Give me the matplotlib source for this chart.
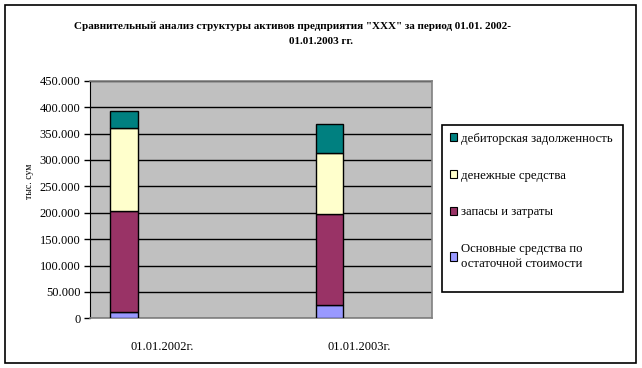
import matplotlib
matplotlib.use("Agg")
import matplotlib.pyplot as plt
from matplotlib.ticker import FuncFormatter, MultipleLocator
from matplotlib.patches import Rectangle

plt.rcParams['font.family'] = ['Liberation Serif', 'DejaVu Serif']

# data (тыс. сум)
dates = ["01.01.2002г.", "01.01.2003г."]
series_names = ["Основные средства по\nостаточной стоимости",
                "запасы и затраты",
                "денежные средства",
                "дебиторская задолженность"]
fixed_assets = [11000, 26000]
stocks = [193000, 172000]
cash = [157000, 115000]
receivables = [31000, 55000]
colors = ["#9999FF", "#993366", "#FFFFCC", "#008080"]

W, H = 642, 368
fig = plt.figure(figsize=(W / 100, H / 100), dpi=100)
fig.patch.set_facecolor("white")
# outer chart border
fig.patches.append(Rectangle((5 / W, 1 - 362.5 / H), 631 / W, 357.5 / H,
                             transform=fig.transFigure, fill=False,
                             edgecolor="black", linewidth=1.2))
# legend box (excel leaves extra room under the last entry)
fig.patches.append(Rectangle((442 / W, 1 - 292 / H), 181 / W, 167 / H,
                             transform=fig.transFigure, fill=False,
                             edgecolor="black", linewidth=1.2, zorder=5))

ax = fig.add_axes([90.3 / W, 1 - 318.3 / H, 342 / W, 237.6 / H])
ax.set_facecolor("#C0C0C0")

x = list(range(len(dates)))
# bars sit left of the category label, as in the excel chart
bar_shift = [-0.197, -0.152]
bar_w = 0.14
xb = [v + s for v, s in zip(x, bar_shift)]

bottom = [0, 0]
handles = []
for vals, col, name in zip([fixed_assets, stocks, cash, receivables], colors, series_names):
    h = ax.bar(xb, vals, bar_w, bottom=bottom, color=col, edgecolor="black",
               linewidth=1, label=name, zorder=3)
    handles.append(h)
    bottom = [b + v for b, v in zip(bottom, vals)]

ax.set_xlim(-0.367, 1.371)
ax.set_ylim(0, 450000)
ax.yaxis.set_major_locator(MultipleLocator(50000))
ax.yaxis.set_major_formatter(FuncFormatter(lambda v, p: f"{v:,.0f}".replace(",", ".")))
ax.grid(axis="y", color="black", linewidth=1, zorder=1)
ax.set_axisbelow(True)
ax.set_xticks(x)
ax.set_xticklabels(dates, fontsize=9)
ax.tick_params(axis="x", length=0, pad=16)
ax.tick_params(axis="y", labelsize=9, length=4, width=1, color="black", pad=3)
for s in ["top", "right", "bottom"]:
    ax.spines[s].set_color("#808080")
    ax.spines[s].set_linewidth(1.2)
ax.spines["left"].set_color("black")

fig.text(29 / W, 1 - 181 / H, "тыс. сум", rotation=90, fontsize=7,
         ha="center", va="center")

fig.text(292 / W, 1 - 26 / H,
         "Сравнительный анализ структуры активов предприятия \"ХХХ\" за период 01.01. 2002-",
         fontsize=8, fontweight="bold", ha="center", va="center")
fig.text(321 / W, 1 - 42 / H, "01.01.2003 гг.",
         fontsize=8, fontweight="bold", ha="center", va="center")

leg = fig.legend(handles[::-1], series_names[::-1], loc="upper left",
                 bbox_to_anchor=(442 / W, 1 - 125 / H), fontsize=9.2,
                 frameon=False,
                 handlelength=0.6, handleheight=0.6, handletextpad=0.25,
                 labelspacing=1.95, borderpad=0.6, borderaxespad=0)
for t in leg.get_texts():
    t.set_linespacing(1.25)
for p in leg.get_patches():
    p.set_edgecolor("black")
    p.set_linewidth(0.8)

fig.savefig("out.png", dpi=100)
